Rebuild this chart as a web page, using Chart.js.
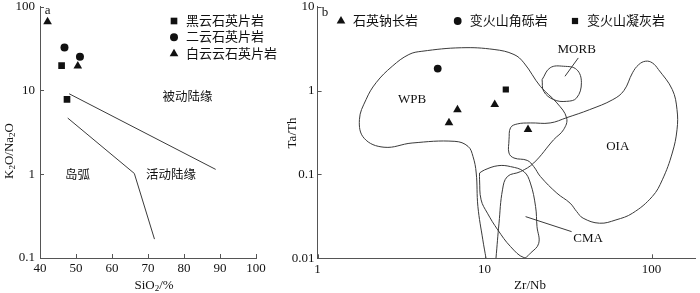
<!DOCTYPE html>
<html lang="zh">
<head>
<meta charset="UTF-8" />
<title>K2O/Na2O–SiO2 and Ta/Th–Zr/Nb diagrams</title>
<script src="https://cdn.jsdelivr.net/npm/chart.js"></script>
<style>
  html, body { margin: 0; padding: 0; background: #fff; }
  #wrap { position: relative; width: 700px; height: 293px; }
  .box { position: absolute; top: 0; height: 293px; }
  #boxA { left: 0; width: 280px; }
  #boxB { left: 280px; width: 420px; }
</style>
</head>
<body>
<div id="wrap">
  <div class="box" id="boxA"><canvas id="chartA"></canvas></div>
  <div class="box" id="boxB"><canvas id="chartB"></canvas></div>
</div>

<script>
// ---------- panel a : K2O/Na2O vs SiO2 ----------
const aNames      = ['黑云石英片岩', '二云石英片岩', '白云云石英片岩'];
const aBioSiO2    = [46.0, 47.5];
const aBioRatio   = [19.7, 7.8];
const aTwoSiO2    = [46.8, 51.1];
const aTwoRatio   = [32.4, 25.2];
const aMusSiO2    = [42.1, 50.5];
const aMusRatio   = [65.9, 19.5];
const aUpperSiO2  = [48.1, 88.8];
const aUpperRatio = [9.1, 1.14];
const aLowerSiO2  = [47.7, 66.2, 71.8];
const aLowerRatio = [4.67, 1.02, 0.168];
const aFields     = ['被动陆缘', '岛弧', '活动陆缘'];
const aFieldSiO2  = [81.0, 50.4, 76.4];
const aFieldRatio = [8.4, 1.01, 1.01];
const aYTicks     = [0.1, 1, 10, 100];

// ---------- panel b : Ta/Th vs Zr/Nb ----------
const bNames     = ['石英钠长岩', '变火山角砾岩', '变火山凝灰岩'];
const bAlbZrNb   = [6.88, 6.12, 11.5, 18.2];
const bAlbTaTh   = [0.59, 0.413, 0.684, 0.344];
const bBrecZrNb  = [5.24];
const bBrecTaTh  = [1.83];
const bTuffZrNb  = [13.4];
const bTuffTaTh  = [1.03];
const bXTicks    = [1, 10, 100];
const bYTicks    = [0.01, 0.1, 1, 10];

// field outlines, [Zr/Nb, Ta/Th]
const wpbLine = [[10.2,0.01],[9.76,0.0166],[9.12,0.0414],[8.91,0.104],[8.52,0.164],[7.96,0.216],
  [6.64,0.248],[3.68,0.237],[2.5,0.211],[1.9,0.27],[1.78,0.45],[1.95,0.78],[2.24,1.24],[2.8,1.95],
  [3.52,2.69],[4.21,2.94],[7.26,3.24],[11.4,3.09],[15.0,2.69],[17.2,2.14],[21.6,1.12],[27.1,0.713],
  [31.0,0.471],[29.7,0.341],[25.9,0.259],[19.7,0.137],[16.4,0.108],[13.7,0.0944],[12.8,0.0655],
  [12.2,0.0262],[11.7,0.01]];
const cmaLoop = [[9.33,0.104],[9.98,0.113],[12.0,0.127],[14.3,0.124],[17.2,0.108],[18.8,0.0789],
  [20.2,0.0414],[20.6,0.0239],[21.1,0.0151],[18.8,0.0115],[17.2,0.0102],[14.3,0.0138],[12.0,0.0218],
  [10.4,0.0345],[9.53,0.0498],[9.33,0.0863],[9.33,0.104]];
const oiaLoop = [[14.0,0.259],[14.3,0.36],[15.7,0.40],[18.8,0.411],[24.7,0.411],[31.0,0.475],
  [42.6,0.593],[58.6,0.78],[68.3,1.0],[76.9,1.63],[83.8,2.04],[92.2,2.24],[101,2.14],[110,1.78],
  [133,1.03],[142,0.593],[142,0.341],[133,0.18],[116,0.0863],[101,0.0545],[76.9,0.0345],[61.2,0.0287],
  [48.8,0.0262],[38.9,0.0301],[35.6,0.0361],[32.5,0.0455],[27.1,0.0598],[21.6,0.0944],[19.7,0.124],
  [18.0,0.147],[15.0,0.157],[14.0,0.18],[14.0,0.259]];
const morbLoop = [[22.1,1.35],[24.7,1.87],[29.7,1.95],[35.6,1.78],[38.0,1.24],[35.6,0.818],
  [31.0,0.744],[25.9,0.78],[22.6,0.98],[22.1,1.35]];
const morbLeader = [[36.4,2.45],[30.3,1.48]];
const cmaLeader  = [[17.6,0.0314],[33.2,0.0208]];
const bFields     = ['WPB', 'MORB', 'OIA', 'CMA'];
const bFieldZrNb  = [3.68, 35.6, 62.7, 41.7];
const bFieldTaTh  = [0.78, 3.09, 0.216, 0.0173];

// ---------- helpers ----------
const SERIF = '"Liberation Serif", "Noto Sans CJK SC", serif';
const INK = '#111';
const LINE = '#3a3a3a';
const AXIS = '#555';

const zip = (xs, ys) => xs.map((x, i) => ({ x: x, y: ys[i] }));
const pts = arr => arr.map(p => ({ x: p[0], y: p[1] }));

function pointSet(label, data, style, r) {
  return { label: label, data: data, pointStyle: style, pointRadius: r, pointHoverRadius: r,
    backgroundColor: INK, borderColor: INK, borderWidth: 0, showLine: false };
}
function curve(data, tension) {
  return { data: data, showLine: true, pointRadius: 0, pointHoverRadius: 0, borderColor: LINE,
    borderWidth: 1, tension: tension, fill: false };
}

function marker(ctx, style, r, x, y) {
  ctx.beginPath();
  if (style === 'circle') {
    ctx.arc(x, y, r, 0, Math.PI * 2);
  } else if (style === 'rect') {
    const s = r * Math.SQRT1_2;
    ctx.rect(x - s, y - s, 2 * s, 2 * s);
  } else {
    for (let k = 0; k < 3; k++) {
      const a = k * 2 * Math.PI / 3;
      const px = x + Math.sin(a) * r, py = y - Math.cos(a) * r;
      if (k) ctx.lineTo(px, py); else ctx.moveTo(px, py);
    }
    ctx.closePath();
  }
  ctx.fill();
}

// text with subscripts: parts = [[text, isSub], ...]
function drawRich(ctx, parts, cx, cy, rot, size) {
  const main = size + 'px ' + SERIF, sub = Math.round(size * 0.72) + 'px ' + SERIF;
  let w = 0;
  parts.forEach(p => { ctx.font = p[1] ? sub : main; w += ctx.measureText(p[0]).width; });
  ctx.save();
  ctx.translate(cx, cy);
  ctx.rotate(rot);
  ctx.textAlign = 'left';
  ctx.textBaseline = 'alphabetic';
  let x = -w / 2;
  const base = size * 0.35;
  parts.forEach(p => {
    ctx.font = p[1] ? sub : main;
    ctx.fillText(p[0], x, p[1] ? base + size * 0.22 : base);
    x += ctx.measureText(p[0]).width;
  });
  ctx.restore();
}

// inward tick marks
const inwardTicks = {
  id: 'inwardTicks',
  afterDraw(chart) {
    const { ctx, chartArea: ca, scales } = chart;
    ctx.save();
    ctx.strokeStyle = AXIS;
    ctx.lineWidth = 1;
    ctx.beginPath();
    scales.x.ticks.forEach(t => {
      const px = Math.round(scales.x.getPixelForValue(t.value)) + 0.5;
      ctx.moveTo(px, ca.bottom);
      ctx.lineTo(px, ca.bottom - 4);
    });
    scales.y.ticks.forEach(t => {
      const py = Math.round(scales.y.getPixelForValue(t.value)) + 0.5;
      ctx.moveTo(ca.left, py);
      ctx.lineTo(ca.left + 4, py);
    });
    ctx.stroke();
    ctx.restore();
  }
};

// panel letter, axis titles, field labels and legend
const deco = {
  id: 'deco',
  afterDraw(chart, args, o) {
    const { ctx, scales } = chart;
    ctx.save();
    ctx.fillStyle = INK;
    ctx.textAlign = 'center';
    ctx.textBaseline = 'middle';
    ctx.font = '13px ' + SERIF;
    ctx.fillText(o.letter[0], o.letter[1], o.letter[2]);
    drawRich(ctx, o.xTitle, o.xTitlePos[0], o.xTitlePos[1], 0, 13);
    drawRich(ctx, o.yTitle, o.yTitlePos[0], o.yTitlePos[1], -Math.PI / 2, 13);
    ctx.font = o.fieldFont;
    o.fields.forEach((t, i) => {
      ctx.fillText(t, scales.x.getPixelForValue(o.fieldX[i]), scales.y.getPixelForValue(o.fieldY[i]));
    });
    ctx.textAlign = 'left';
    ctx.font = '13px ' + SERIF;
    o.legend.forEach((it, i) => {
      const ds = chart.data.datasets[i];
      const mx = it[0], my = it[1];
      marker(ctx, ds.pointStyle, ds.pointRadius, mx, my);
      ctx.fillText(ds.label, mx + 12, my + 0.5);
    });
    ctx.restore();
  }
};

function fitY(width) {
  return s => { s.width = width; s.paddingTop = 0; s.paddingBottom = 0; };
}
function fitX(height) {
  return s => { s.height = height; s.paddingLeft = 0; s.paddingRight = 0; };
}
function fixedTicks(list) {
  return s => { s.ticks = list.map(v => ({ value: v })); };
}
const tickFont = { family: SERIF, size: 13 };

Chart.defaults.font.family = SERIF;
Chart.defaults.color = INK;

// ---------- chart a ----------
new Chart(document.getElementById('chartA'), {
  type: 'scatter',
  data: {
    datasets: [
      pointSet(aNames[0], zip(aBioSiO2, aBioRatio), 'rect', 4.7),
      pointSet(aNames[1], zip(aTwoSiO2, aTwoRatio), 'circle', 4),
      pointSet(aNames[2], zip(aMusSiO2, aMusRatio), 'triangle', 5),
      curve(zip(aUpperSiO2, aUpperRatio), 0),
      curve(zip(aLowerSiO2, aLowerRatio), 0)
    ]
  },
  options: {
    responsive: true,
    maintainAspectRatio: false,
    animation: false,
    layout: { padding: { top: 6.5, right: 24, left: 0, bottom: 0 } },
    scales: {
      x: {
        type: 'linear', min: 40, max: 100,
        ticks: { stepSize: 10, font: tickFont, color: INK, padding: 3, maxRotation: 0, autoSkip: false },
        grid: { display: false, drawTicks: false },
        border: { display: true, color: AXIS, width: 1 },
        afterFit: fitX(35)
      },
      y: {
        type: 'logarithmic', min: 0.1, max: 100,
        afterBuildTicks: fixedTicks(aYTicks),
        ticks: { font: tickFont, color: INK, padding: 5, callback: v => String(v) },
        grid: { display: false, drawTicks: false },
        border: { display: true, color: AXIS, width: 1 },
        afterFit: fitY(40)
      }
    },
    plugins: {
      legend: { display: false },
      tooltip: { enabled: false },
      deco: {
        letter: ['a', 47.7, 11],
        xTitle: [['SiO', false], ['2', true], ['/%', false]],
        xTitlePos: [154, 284],
        yTitle: [['K', false], ['2', true], ['O/Na', false], ['2', true], ['O', false]],
        yTitlePos: [8, 151],
        fields: aFields, fieldX: aFieldSiO2, fieldY: aFieldRatio,
        fieldFont: '12.5px "Noto Sans CJK SC", sans-serif',
        legend: [[174, 21], [174, 37.3], [174, 53.8]]
      }
    }
  },
  plugins: [inwardTicks, deco]
});

// ---------- chart b ----------
new Chart(document.getElementById('chartB'), {
  type: 'scatter',
  data: {
    datasets: [
      pointSet(bNames[0], zip(bAlbZrNb, bAlbTaTh), 'triangle', 5),
      pointSet(bNames[1], zip(bBrecZrNb, bBrecTaTh), 'circle', 3.9),
      pointSet(bNames[2], zip(bTuffZrNb, bTuffTaTh), 'rect', 4.4),
      curve(pts(wpbLine), 0.4),
      curve(pts(cmaLoop), 0.4),
      curve(pts(oiaLoop), 0.4),
      curve(pts(morbLoop), 0.4),
      curve(pts(morbLeader), 0),
      curve(pts(cmaLeader), 0)
    ]
  },
  options: {
    responsive: true,
    maintainAspectRatio: false,
    animation: false,
    layout: { padding: { top: 6.7, right: 0, left: 0, bottom: 0 } },
    scales: {
      x: {
        type: 'logarithmic', min: 1, max: 182,
        afterBuildTicks: fixedTicks(bXTicks),
        ticks: { font: tickFont, color: INK, padding: 3, maxRotation: 0, autoSkip: false, callback: v => String(v) },
        grid: { display: false, drawTicks: false },
        border: { display: true, color: AXIS, width: 1 },
        afterFit: fitX(34.7)
      },
      y: {
        type: 'logarithmic', min: 0.01, max: 10,
        afterBuildTicks: fixedTicks(bYTicks),
        ticks: { font: tickFont, color: INK, padding: 3, callback: v => String(v) },
        grid: { display: false, drawTicks: false },
        border: { display: true, color: AXIS, width: 1 },
        afterFit: fitY(37.6)
      }
    },
    plugins: {
      legend: { display: false },
      tooltip: { enabled: false },
      deco: {
        letter: ['b', 45, 13],
        xTitle: [['Zr/Nb', false]],
        xTitlePos: [250, 284],
        yTitle: [['Ta/Th', false]],
        yTitlePos: [11, 133],
        fields: bFields, fieldX: bFieldZrNb, fieldY: bFieldTaTh,
        fieldFont: '13px ' + SERIF,
        legend: [[61, 21], [177.7, 21], [295, 21]]
      }
    }
  },
  plugins: [inwardTicks, deco]
});
</script>
</body>
</html>
